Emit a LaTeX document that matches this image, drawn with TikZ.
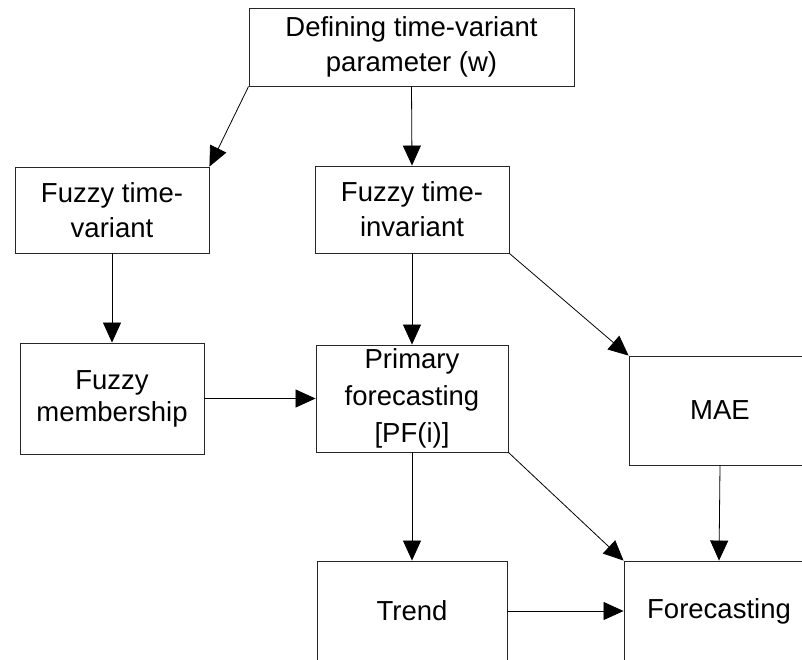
\documentclass[tikz,border=0pt]{standalone}
\usepackage{fontspec}
\setmainfont{Liberation Sans}
\usetikzlibrary{arrows.meta}
\begin{document}
\begin{tikzpicture}[x=1pt,y=-1pt,
  box/.style={draw=black!85, line width=0.9pt, inner sep=0pt, align=center,
    font=\fontsize{27.5}{35}\selectfont},
  conn/.style={draw=black, line width=0.8pt, -{Triangle[length=20pt,width=18pt]}}]
\useasboundingbox (0,0) rectangle (802,659);
\clip (0,0) rectangle (802,659);
\node[box, minimum width=325pt, minimum height=78pt] (top) at (411.5,47) {Defining time-variant\\parameter (w)};
\node[box, minimum width=194pt, minimum height=86pt] (ftv) at (112,210) {Fuzzy time-\\variant};
\node[box, minimum width=194pt, minimum height=87pt] (fti) at (412,209.5) {Fuzzy time-\\invariant};
\node[box, minimum width=184pt, minimum height=111pt, font=\fontsize{27.5}{32}\selectfont] (fm) at (112,398.5) {Fuzzy\\membership};
\node[box, minimum width=192pt, minimum height=107pt, font=\fontsize{27.5}{37}\selectfont] (pf) at (412,398.5) {Primary\\forecasting\\{[PF(i)]}};
\node[box, minimum width=182pt, minimum height=109pt] (mae) at (720,410.5) {MAE};
\node[box, minimum width=190pt, minimum height=100pt] (trend) at (412,611) {Trend};
\node[box, minimum width=190pt, minimum height=100pt] (fc) at (719,611) {Forecasting};
\draw[conn] (top.south west) -- (ftv.north east);
\draw[conn] (top.south) -- (fti.north);
\draw[conn] (ftv.south) -- (fm.north);
\draw[conn] (fm.east) -- (pf.west);
\draw[conn] (fti.south) -- (pf.north);
\draw[conn] (fti.south east) -- (mae.north west);
\draw[conn] (pf.south) -- (trend.north);
\draw[conn] (pf.south east) -- (fc.north west);
\draw[conn] (mae.south) -- (fc.north);
\draw[conn] (trend.east) -- (fc.west);
\end{tikzpicture}
\end{document}
